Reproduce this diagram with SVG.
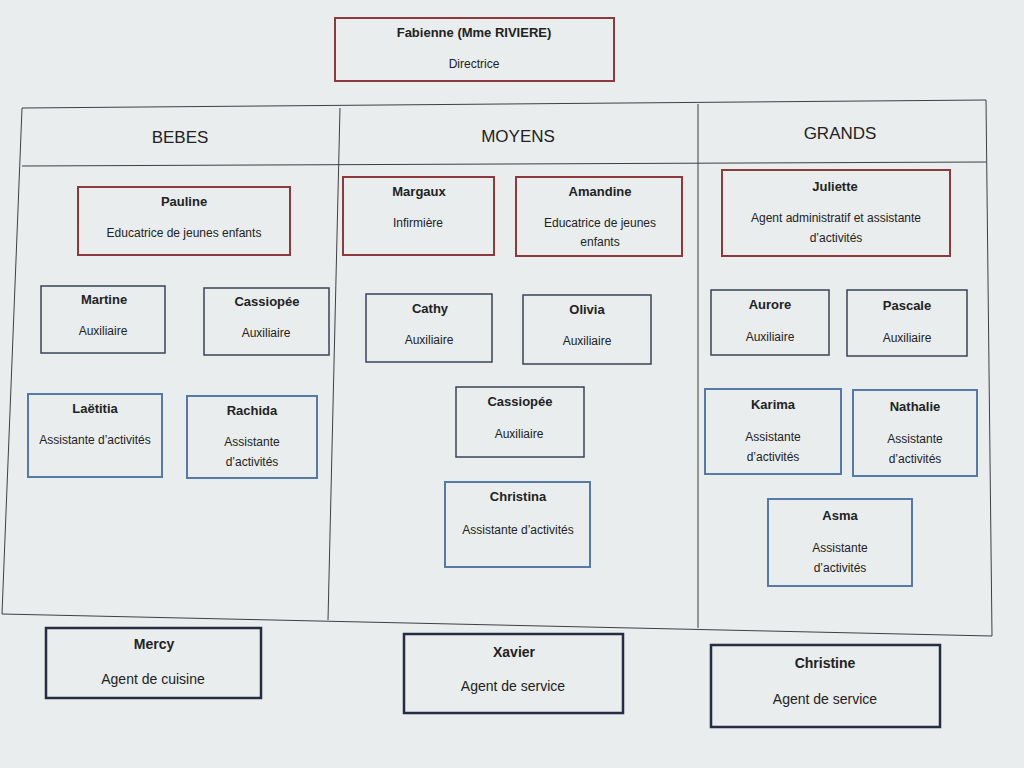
<svg xmlns="http://www.w3.org/2000/svg" width="1024" height="768" viewBox="0 0 1024 768">
<defs>
<style>
.bg{fill:#e9edee}
.grid{fill:none;stroke:#3c3f44;stroke-width:1}
.red{fill:none;stroke:#8e3a3c;stroke-width:2}
.dark{fill:none;stroke:#3b4256;stroke-width:1.5}
.blue{fill:none;stroke:#5579a8;stroke-width:2}
.navy{fill:none;stroke:#262c44;stroke-width:2.5}
text{font-family:"Liberation Sans","Noto Sans",Arial,sans-serif;fill:#222;text-anchor:middle}
.hd{font-size:17px}
.nm{font-size:13px;font-weight:bold}
.rl{font-size:12px}
.bnm{font-size:14px;font-weight:bold}
.brl{font-size:14px}
</style>
</defs>
<rect class="bg" x="0" y="0" width="1024" height="768"/>

<g id="table">
<polygon class="grid" points="22,108 986,100 992,636 2,614"/>
<line class="grid" x1="22" y1="166" x2="986" y2="162"/>
<line class="grid" x1="340" y1="108" x2="328" y2="620"/>
<line class="grid" x1="698" y1="104" x2="698" y2="628"/>
<text class="hd" x="180" y="143">BEBES</text>
<text class="hd" x="518" y="142">MOYENS</text>
<text class="hd" x="840" y="139">GRANDS</text>
</g>

<g id="connectors"></g>

<g id="fabienne"><rect class="red" x="335" y="18" width="279" height="63"/><text class="nm" x="474" y="37">Fabienne (Mme RIVIERE)</text><text class="rl" x="474" y="68">Directrice</text></g>

<g id="pauline"><rect class="red" x="78" y="187" width="212" height="68"/><text class="nm" x="184" y="206">Pauline</text><text class="rl" x="184" y="237">Educatrice de jeunes enfants</text></g>
<g id="martine"><rect class="dark" x="41" y="286" width="124" height="67"/><text class="nm" x="104" y="304">Martine</text><text class="rl" x="103" y="335">Auxiliaire</text></g>
<g id="cassiopee1"><rect class="dark" x="204" y="288" width="125" height="67"/><text class="nm" x="267" y="306">Cassiopée</text><text class="rl" x="266" y="337">Auxiliaire</text></g>
<g id="laetitia"><rect class="blue" x="28" y="394" width="134" height="83"/><text class="nm" x="95" y="413">Laëtitia</text><text class="rl" x="95" y="444">Assistante d’activités</text></g>
<g id="rachida"><rect class="blue" x="187" y="396" width="130" height="82"/><text class="nm" x="252" y="415">Rachida</text><text class="rl" x="252" y="446">Assistante</text><text class="rl" x="252" y="466">d’activités</text></g>

<g id="margaux"><rect class="red" x="343" y="177" width="151" height="78"/><text class="nm" x="419" y="196">Margaux</text><text class="rl" x="418" y="227">Infirmière</text></g>
<g id="amandine"><rect class="red" x="516" y="177" width="166" height="79"/><text class="nm" x="600" y="196">Amandine</text><text class="rl" x="600" y="227">Educatrice de jeunes</text><text class="rl" x="600" y="246">enfants</text></g>
<g id="cathy"><rect class="dark" x="366" y="294" width="126" height="68"/><text class="nm" x="430" y="313">Cathy</text><text class="rl" x="429" y="344">Auxiliaire</text></g>
<g id="olivia"><rect class="dark" x="523" y="295" width="128" height="69"/><text class="nm" x="587" y="314">Olivia</text><text class="rl" x="587" y="345">Auxiliaire</text></g>
<g id="cassiopee2"><rect class="dark" x="456" y="387" width="128" height="70"/><text class="nm" x="520" y="406">Cassiopée</text><text class="rl" x="519" y="438">Auxiliaire</text></g>
<g id="christina"><rect class="blue" x="445" y="482" width="145" height="85"/><text class="nm" x="518" y="501">Christina</text><text class="rl" x="518" y="534">Assistante d’activités</text></g>

<g id="juliette"><rect class="red" x="722" y="170" width="228" height="86"/><text class="nm" x="835" y="191">Juliette</text><text class="rl" x="836" y="222">Agent administratif et assistante</text><text class="rl" x="836" y="242">d’activités</text></g>
<g id="aurore"><rect class="dark" x="711" y="290" width="118" height="65"/><text class="nm" x="770" y="309">Aurore</text><text class="rl" x="770" y="341">Auxiliaire</text></g>
<g id="pascale"><rect class="dark" x="847" y="290" width="120" height="66"/><text class="nm" x="907" y="310">Pascale</text><text class="rl" x="907" y="342">Auxiliaire</text></g>
<g id="karima"><rect class="blue" x="705" y="389" width="136" height="85"/><text class="nm" x="773" y="409">Karima</text><text class="rl" x="773" y="441">Assistante</text><text class="rl" x="773" y="461">d’activités</text></g>
<g id="nathalie"><rect class="blue" x="853" y="390" width="124" height="86"/><text class="nm" x="915" y="411">Nathalie</text><text class="rl" x="915" y="443">Assistante</text><text class="rl" x="915" y="463">d’activités</text></g>
<g id="asma"><rect class="blue" x="768" y="499" width="144" height="87"/><text class="nm" x="840" y="520">Asma</text><text class="rl" x="840" y="552">Assistante</text><text class="rl" x="840" y="572">d’activités</text></g>

<g id="mercy"><rect class="navy" x="46" y="628" width="215" height="70"/><text class="bnm" x="154" y="649">Mercy</text><text class="brl" x="153" y="684">Agent de cuisine</text></g>
<g id="xavier"><rect class="navy" x="404" y="634" width="219" height="79"/><text class="bnm" x="514" y="657">Xavier</text><text class="brl" x="513" y="691">Agent de service</text></g>
<g id="christine"><rect class="navy" x="711" y="645" width="229" height="82"/><text class="bnm" x="825" y="668">Christine</text><text class="brl" x="825" y="704">Agent de service</text></g>
</svg>
